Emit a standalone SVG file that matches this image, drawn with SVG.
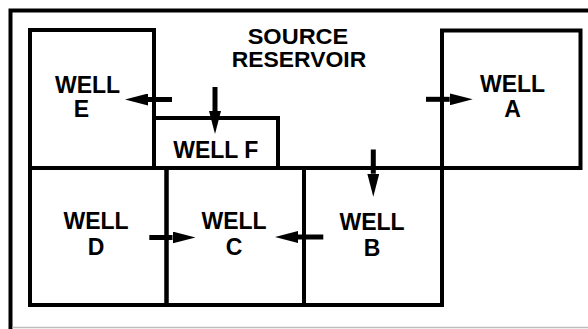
<svg xmlns="http://www.w3.org/2000/svg" width="588" height="329" viewBox="0 0 588 329">
  <style>
    .box { fill: none; stroke: #000; stroke-width: 4; }
    .lbl { font-family: "Liberation Sans", Arial, sans-serif; font-weight: bold; font-size: 23px; fill: #000; text-anchor: middle; }
    .title { font-family: "Liberation Sans", Arial, sans-serif; font-weight: bold; font-size: 22px; fill: #000; text-anchor: middle; }
    .arrow { stroke: #000; stroke-width: 5; fill: none; marker-end: url(#head); }
  </style>
  <defs>
    <marker id="head" viewBox="0 0 23 12" markerWidth="23" markerHeight="12" refX="0" refY="6" markerUnits="userSpaceOnUse" orient="auto">
      <path d="M0,0 L23,6 L0,12 z" fill="#000"/>
    </marker>
  </defs>
  <rect width="588" height="329" fill="#fff"/>
  <g id="frame">
    <path d="M588,10.5 H10.5 V329" fill="none" stroke="#000" stroke-width="4"/>
    <line x1="12.5" y1="327.5" x2="588" y2="327.5" stroke="#bdbdbd" stroke-width="1.5"/>
  </g>
  <g id="source-reservoir">
    <text class="title" x="298" y="44" textLength="100.6" lengthAdjust="spacingAndGlyphs">SOURCE</text>
    <text class="title" x="299" y="66.7" textLength="134.4" lengthAdjust="spacingAndGlyphs">RESERVOIR</text>
  </g>
  <g id="well-e">
    <rect class="box" x="30" y="30" width="124" height="138"/>
    <text class="lbl" x="87.5" y="93.3">WELL</text>
    <text class="lbl" x="81.5" y="117.3">E</text>
  </g>
  <g id="well-f">
    <rect class="box" x="154" y="118" width="124" height="50"/>
    <text class="lbl" x="215.8" y="158.3">WELL F</text>
  </g>
  <g id="well-a">
    <rect class="box" x="442" y="30.5" width="138.5" height="137.5"/>
    <text class="lbl" x="512.5" y="92">WELL</text>
    <text class="lbl" x="512.5" y="116.5">A</text>
  </g>
  <g id="well-d">
    <rect class="box" x="30" y="168" width="136.5" height="137"/>
    <text class="lbl" x="96" y="229.3">WELL</text>
    <text class="lbl" x="96" y="255">D</text>
  </g>
  <g id="well-c">
    <rect class="box" x="166.5" y="168" width="137.5" height="137"/>
    <text class="lbl" x="234" y="229.3">WELL</text>
    <text class="lbl" x="234" y="255">C</text>
  </g>
  <g id="well-b">
    <rect class="box" x="304" y="168" width="138" height="137"/>
    <text class="lbl" x="372" y="229.5">WELL</text>
    <text class="lbl" x="372" y="255.5">B</text>
  </g>
  <g id="connectors">
    <line class="arrow" x1="172" y1="99.5" x2="148" y2="99.5"/>
    <line class="arrow" x1="215" y1="87" x2="215" y2="111"/>
    <line class="arrow" x1="426" y1="99.3" x2="449.7" y2="99.3"/>
    <line class="arrow" x1="373.3" y1="149.5" x2="373.3" y2="173.7"/>
    <line class="arrow" x1="149.3" y1="237.5" x2="172.5" y2="237.5"/>
    <line class="arrow" x1="323.3" y1="237" x2="298" y2="237"/>
  </g>
</svg>
